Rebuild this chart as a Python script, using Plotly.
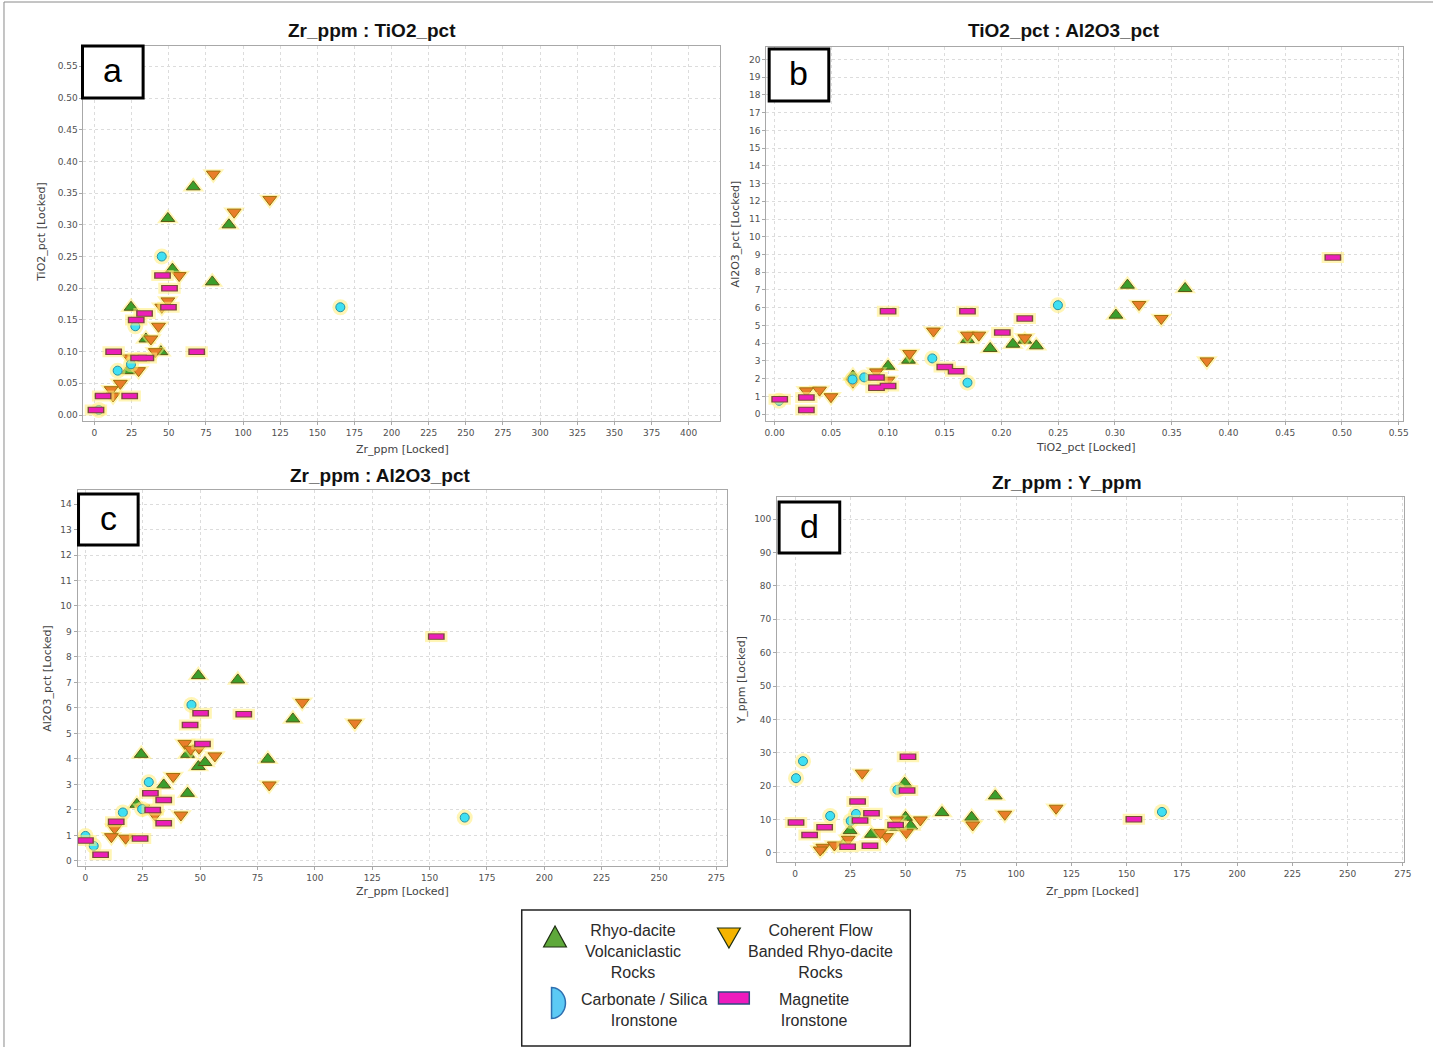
import math
import plotly.graph_objects as go

W, H = 1440, 1047

# ---------------- data ----------------
# Panel a: Zr_ppm vs TiO2_pct
A_RDV_ZR = [66.5, 49.4, 90.5, 52.5, 79.3, 24.6, 34.6, 44.7, 22.6]
A_RDV_TI = [0.36, 0.31, 0.30, 0.23, 0.21, 0.17, 0.12, 0.10, 0.07]
A_CFB_ZR = [80, 118, 94, 57, 49.4, 45.3, 43.1, 38, 40.9, 23.7, 29.7, 17.4, 11.2, 12.5]
A_CFB_TI = [0.38, 0.34, 0.32, 0.22, 0.18, 0.17, 0.14, 0.12, 0.10, 0.09, 0.07, 0.05, 0.04, 0.03]
A_CSI_ZR = [45.3, 27.5, 24.6, 15.6, 2.9, 165.5]
A_CSI_TI = [0.25, 0.14, 0.08, 0.07, 0.008, 0.17]
A_MAG_ZR = [45.8, 50.5, 49.8, 33.7, 28.1, 12.9, 29.7, 34.6, 68.8, 5.8, 23.7, 1]
A_MAG_TI = [0.22, 0.20, 0.17, 0.16, 0.15, 0.10, 0.09, 0.09, 0.10, 0.03, 0.03, 0.008]

# Panel b: TiO2_pct vs Al2O3_pct
B_RDV_TI = [0.069, 0.10, 0.118, 0.17, 0.19, 0.21, 0.2205, 0.2307, 0.3008, 0.311, 0.3618]
B_RDV_AL = [2.15, 2.7, 3.04, 4.2, 3.7, 3.94, 4.17, 3.85, 5.58, 7.27, 7.08]
B_CFB_TI = [0.028, 0.0396, 0.0497, 0.069, 0.0898, 0.10, 0.119, 0.14, 0.17, 0.18, 0.2205, 0.3212, 0.3408, 0.381]
B_CFB_AL = [1.31, 1.35, 0.98, 1.8, 2.38, 1.91, 3.42, 4.68, 4.45, 4.45, 4.3, 6.18, 5.39, 3.0]
B_CSI_TI = [0.004, 0.0687, 0.079, 0.139, 0.17, 0.2497]
B_CSI_AL = [0.75, 1.95, 2.07, 3.14, 1.77, 6.14]
B_MAG_TI = [0.0045, 0.028, 0.028, 0.0898, 0.0898, 0.10, 0.10, 0.15, 0.16, 0.17, 0.2007, 0.2205, 0.492]
B_MAG_AL = [0.83, 0.94, 0.23, 2.07, 1.48, 1.58, 5.8, 2.66, 2.42, 5.8, 4.6, 5.39, 8.83]

# Panel c: Zr_ppm vs Al2O3_pct
C_RDV_ZR = [49.2, 66.4, 90.4, 24.3, 44.5, 49.2, 52.1, 79.5, 34.1, 44.5, 22.4]
C_RDV_AL = [7.27, 7.1, 5.57, 4.18, 4.18, 3.7, 3.86, 3.99, 2.98, 2.65, 2.22]
C_CFB_ZR = [94.5, 43.3, 45.9, 49.5, 56.4, 80.1, 38.2, 41.6, 30.3, 25, 12.7, 11.3, 17.5, 117.4]
C_CFB_AL = [6.22, 4.61, 4.38, 4.42, 4.12, 2.98, 3.31, 1.8, 1.8, 2.07, 1.28, 0.95, 0.89, 5.41]
C_CSI_ZR = [46.2, 27.6, 16.3, 24.7, 0, 3.6, 165.3]
C_CSI_AL = [6.12, 3.09, 1.9, 2.03, 0.98, 0.59, 1.7]
C_MAG_ZR = [50.2, 69, 45.6, 51, 28.3, 34.1, 29.3, 34.1, 13.4, 23.8, 0, 6.6, 152.9]
C_MAG_AL = [5.79, 5.75, 5.33, 4.59, 2.65, 2.39, 2.0, 1.48, 1.54, 0.88, 0.8, 0.24, 8.8]

# Panel d: Zr_ppm vs Y_ppm
D_RDV_ZR = [49.6, 90.6, 66.5, 79.9, 50, 52.3, 44.8, 34.6, 24.9, 22.6]
D_RDV_Y = [20.9, 17.1, 12.1, 10.7, 10.7, 8.1, 7.7, 5.6, 6.7, 3.1]
D_CFB_ZR = [30.4, 56.7, 45.9, 50.4, 80.4, 41.4, 38.7, 24.1, 17.8, 12.6, 11.4, 118.1, 94.9]
D_CFB_Y = [23.9, 9.9, 9.9, 6.1, 8.4, 4.9, 6.1, 4.1, 2.4, 1.7, 0.9, 13.4, 11.6]
D_CSI_ZR = [3.6, 0.45, 46.3, 27.6, 25.2, 15.9, 166]
D_CSI_Y = [27.5, 22.4, 18.9, 11.7, 9.6, 11.1, 12.3]
D_MAG_ZR = [51.1, 50.7, 28.3, 34.6, 29.4, 0.45, 13.4, 6.6, 45.5, 33.9, 23.8, 153.3]
D_MAG_Y = [28.8, 18.7, 15.4, 11.9, 9.7, 9.1, 7.7, 5.4, 8.4, 2.2, 1.9, 10.1]

GROUPS = ["Rhyo-dacite Volcaniclastic Rocks", "Coherent Flow Banded Rhyo-dacite Rocks",
          "Carbonate / Silica Ironstone", "Magnetite Ironstone"]

PANELS = [
    ("x", "y", [(A_RDV_ZR, A_RDV_TI), (A_CFB_ZR, A_CFB_TI), (A_CSI_ZR, A_CSI_TI), (A_MAG_ZR, A_MAG_TI)]),
    ("x2", "y2", [(B_RDV_TI, B_RDV_AL), (B_CFB_TI, B_CFB_AL), (B_CSI_TI, B_CSI_AL), (B_MAG_TI, B_MAG_AL)]),
    ("x3", "y3", [(C_RDV_ZR, C_RDV_AL), (C_CFB_ZR, C_CFB_AL), (C_CSI_ZR, C_CSI_AL), (C_MAG_ZR, C_MAG_AL)]),
    ("x4", "y4", [(D_RDV_ZR, D_RDV_Y), (D_CFB_ZR, D_CFB_Y), (D_CSI_ZR, D_CSI_Y), (D_MAG_ZR, D_MAG_Y)]),
]

HALO = "rgba(255,236,120,0.55)"
STYLE = [
    dict(symbol="triangle-up", size=12, color="#3b9e2c", line=dict(color="#5a5a14", width=1)),
    dict(symbol="triangle-down", size=12, color="#e97d2a", line=dict(color="#a0700c", width=1)),
    dict(symbol="circle", size=9, color="#3fe0f3", line=dict(color="#2a8fa0", width=1)),
    None,
]


def px(x):
    return x / W


def py(y):
    return 1 - y / H


fig = go.Figure()

for xa, ya, series in PANELS:
    for gi, (xs, ys) in enumerate(series):
        st = STYLE[gi]
        if st is not None:
            fig.add_trace(go.Scatter(x=xs, y=ys, mode="markers", xaxis=xa, yaxis=ya, showlegend=False,
                                     hoverinfo="skip",
                                     marker=dict(symbol=st["symbol"], size=st["size"] + 7, color=HALO,
                                                 line=dict(width=0))))
            fig.add_trace(go.Scatter(x=xs, y=ys, mode="markers", xaxis=xa, yaxis=ya, showlegend=False,
                                     name=GROUPS[gi], marker=st))
        else:
            fig.add_trace(go.Scatter(x=xs, y=ys, mode="markers", xaxis=xa, yaxis=ya, showlegend=False,
                                     hoverinfo="skip",
                                     marker=dict(symbol="line-ew", size=16, color=HALO,
                                                 line=dict(color=HALO, width=11))))
            fig.add_trace(go.Scatter(x=xs, y=ys, mode="markers", xaxis=xa, yaxis=ya, showlegend=False,
                                     hoverinfo="skip",
                                     marker=dict(symbol="line-ew", size=12, color="#7a4a3a",
                                                 line=dict(color="#7a4a3a", width=6.5))))
            fig.add_trace(go.Scatter(x=xs, y=ys, mode="markers", xaxis=xa, yaxis=ya, showlegend=False,
                                     name=GROUPS[gi],
                                     marker=dict(symbol="line-ew", size=10, color="#ec1fb8",
                                                 line=dict(color="#ec1fb8", width=4.5))))

TICKFONT = dict(family="DejaVu Sans", size=9, color="#505050")


def axis(dom, rng, dtick, anchor, fmt=None, tick0=0):
    d = dict(domain=dom, range=rng, dtick=dtick, tick0=tick0, anchor=anchor, showgrid=True,
             gridcolor="#dcdcdc", griddash="dot", gridwidth=1, zeroline=False, showline=True,
             linecolor="#a8a8a8", linewidth=1, mirror=True, ticks="outside", ticklen=3,
             tickcolor="#a8a8a8", tickfont=TICKFONT)
    if fmt:
        d["tickformat"] = fmt
    return d


# plot-area boxes in pixels: (left, right, top, bottom)
BOX_A = (82, 723, 46, 421)
BOX_B = (769, 1410, 47, 421)
BOX_C = (76, 730, 490, 866)
BOX_D = (780, 1411, 497, 862)


def xd(b):
    return [px(b[0]), px(b[1])]


def yd(b):
    return [py(b[3]), py(b[2])]


fig.update_layout(
    width=W, height=H, margin=dict(l=0, r=0, t=0, b=0),
    paper_bgcolor="white", plot_bgcolor="white", showlegend=False,
    xaxis=axis(xd(BOX_A), [-7.4, 421.4], 25, "y"),
    yaxis=axis(yd(BOX_A), [-0.0094, 0.582], 0.05, "x", ".2f"),
    xaxis2=axis(xd(BOX_B), [-0.0074, 0.554], 0.05, "y2", ".2f"),
    yaxis2=axis(yd(BOX_B), [-0.39, 20.7], 1, "x2"),
    xaxis3=axis(xd(BOX_C), [-3.46, 279.8], 25, "y3"),
    yaxis3=axis(yd(BOX_C), [-0.2, 14.55], 1, "x3"),
    xaxis4=axis(xd(BOX_D), [-8.1, 275.6], 25, "y4"),
    yaxis4=axis(yd(BOX_D), [-2.7, 106.6], 10, "x4"),
)

ann = []
shapes = []


def note(text, x, y, font, **kw):
    d = dict(text=text, x=px(x), y=py(y), xref="paper", yref="paper", showarrow=False,
             xanchor="center", yanchor="middle", font=font)
    d.update(kw)
    ann.append(d)


# titles
TITLES = [("Zr_ppm : TiO2_pct", 372, 30), ("TiO2_pct : Al2O3_pct", 1069, 31),
          ("Zr_ppm : Al2O3_pct", 381, 475), ("Zr_ppm : Y_ppm", 1072, 483)]
for t, x, y in TITLES:
    note("<b>" + t + "</b>", x, y, dict(family="Liberation Sans", size=19, color="#111111"))

# axis titles
XT = [("Zr_ppm [Locked]", 403, 449), ("TiO2_pct [Locked]", 1090, 448),
      ("Zr_ppm [Locked]", 403, 891), ("Zr_ppm [Locked]", 1097, 891)]
for t, x, y in XT:
    note(t, x, y, dict(family="DejaVu Sans", size=11, color="#444444"))
YT = [("TiO2_pct [Locked]", 39, 232), ("Al2O3_pct [Locked]", 738, 234),
      ("Al2O3_pct [Locked]", 45, 678), ("Y_ppm [Locked]", 744, 680)]
for t, x, y in YT:
    note(t, x, y, dict(family="DejaVu Sans", size=11, color="#444444"), textangle=-90)

# panel letter boxes
LETTERS = [("a", 81, 46, 142, 98), ("b", 772, 49, 832, 101), ("c", 77, 494, 137, 545),
           ("d", 782, 502, 843, 553)]
for t, x0, y0, x1, y1 in LETTERS:
    shapes.append(dict(type="rect", xref="paper", yref="paper", x0=px(x0), x1=px(x1), y0=py(y1),
                       y1=py(y0), line=dict(color="black", width=3), fillcolor="white", layer="above"))
    note(t, (x0 + x1) / 2, (y0 + y1) / 2 - 2, dict(family="Liberation Sans", size=34, color="black"))

# outer frame lines (left/top)
shapes.append(dict(type="line", xref="paper", yref="paper", x0=px(2), x1=px(2), y0=0, y1=py(2),
                   line=dict(color="#8a8a8a", width=1)))
shapes.append(dict(type="line", xref="paper", yref="paper", x0=px(2), x1=1, y0=py(2), y1=py(2),
                   line=dict(color="#8a8a8a", width=1)))

# legend box
shapes.append(dict(type="rect", xref="paper", yref="paper", x0=px(523), x1=px(914), y0=py(1046),
                   y1=py(910), line=dict(color="#222222", width=1.5), fillcolor="white"))


def ppath(points):
    return "M " + " L ".join(f"{px(x):.5f},{py(y):.5f}" for x, y in points) + " Z"


shapes.append(dict(type="path", xref="paper", yref="paper",
                   path=ppath([(545, 947), (568, 947), (556.5, 926)]),
                   fillcolor="#5ea83a", line=dict(color="#1e2e12", width=1.2)))
shapes.append(dict(type="path", xref="paper", yref="paper",
                   path=ppath([(720, 928), (743, 928), (731.5, 948)]),
                   fillcolor="#f5b400", line=dict(color="#1e2e12", width=1.2)))
half = [(553 + 14 * math.cos(a), 1003 + 15.5 * math.sin(a))
        for a in [(-math.pi / 2 + i * math.pi / 24) for i in range(25)]]
shapes.append(dict(type="path", xref="paper", yref="paper", path=ppath(half),
                   fillcolor="#5ccaf5", line=dict(color="#2e6fb0", width=1.5)))
shapes.append(dict(type="rect", xref="paper", yref="paper", x0=px(721), x1=px(752), y0=py(1004),
                   y1=py(992), fillcolor="#ee1bbd", line=dict(color="#2e4a80", width=1.5)))

LEG = [("Rhyo-dacite<br>Volcaniclastic<br>Rocks", 635, 951),
       ("Coherent Flow<br>Banded Rhyo-dacite<br>Rocks", 824, 951),
       ("Carbonate / Silica<br>Ironstone", 646, 1010),
       ("Magnetite<br>Ironstone", 817, 1010)]
for t, x, y in LEG:
    note(t, x, y, dict(family="Liberation Sans", size=16, color="#2a2a2a"), align="center")

fig.update_layout(annotations=ann, shapes=shapes)
fig.write_html("out.html")
